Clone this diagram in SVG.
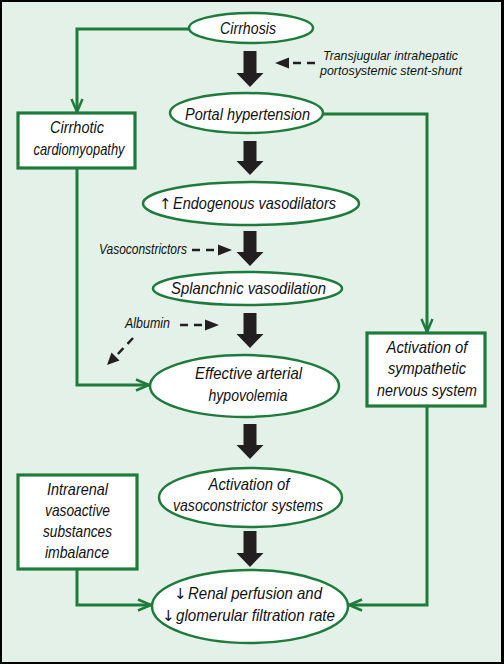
<svg xmlns="http://www.w3.org/2000/svg" width="504" height="664" viewBox="0 0 504 664">
<style>
.bg{fill:#e3f1e8}
.node{fill:#fff;stroke:#1e7b3c;stroke-width:2.5}
.box{fill:#fff;stroke:#1e7b3c;stroke-width:3.2}
.t{font-family:"Liberation Sans",Arial,sans-serif;font-style:italic;font-size:17px;fill:#111;text-anchor:middle}
.l{text-anchor:start}
.s{font-family:"Liberation Sans",Arial,sans-serif;font-style:italic;font-size:14px;fill:#111}
.tp{font-size:13px}
.ar{font-family:"DejaVu Sans",sans-serif;font-size:15px;fill:#111}
.g{fill:none;stroke:#1e7b3c;stroke-width:3}
.big{fill:#231f20}
.dash{fill:none;stroke:#231f20;stroke-width:2.5;stroke-dasharray:8 6}
.head{fill:#231f20}
</style>
<defs>
<marker id="open" markerUnits="userSpaceOnUse" markerWidth="16" markerHeight="14" viewBox="0 0 16 14" refX="14" refY="7" orient="auto">
<path d="M1,1.5 L14,7 L1,12.5" fill="none" stroke="#1e7b3c" stroke-width="2.5"/>
</marker>
</defs>
<rect x="0" y="0" width="504" height="664" fill="#000"/>
<rect class="bg" x="2" y="2" width="499" height="660"/>

<g id="connectors">
<polyline class="g" points="189,29 77,29 77,112" marker-end="url(#open)"/>
<polyline class="g" points="323,114 427,114 427,332" marker-end="url(#open)"/>
<polyline class="g" points="77,168 77,385 149,385" marker-end="url(#open)"/>
<polyline class="g" points="77,569 77,605 151,605" marker-end="url(#open)"/>
<polyline class="g" points="427,406 427,605 349,605" marker-end="url(#open)"/>
<path class="big" d="M243.5,51 H256.5 V73 H263.5 L250,87 L236.5,73 H243.5 Z"/>
<path class="big" d="M243.5,141 H256.5 V161 H263.5 L250,175 L236.5,161 H243.5 Z"/>
<path class="big" d="M243.5,231 H256.5 V252 H263.5 L250,266 L236.5,252 H243.5 Z"/>
<path class="big" d="M243.5,313 H256.5 V334 H263.5 L250,348 L236.5,334 H243.5 Z"/>
<path class="big" d="M243.5,424 H256.5 V445 H263.5 L250,459 L236.5,445 H243.5 Z"/>
<path class="big" d="M243.5,531 H256.5 V553 H263.5 L250,567 L236.5,553 H243.5 Z"/>
<line class="dash" x1="315" y1="63" x2="288" y2="63"/>
<path class="head" d="M275,63 L289,57.5 L289,68.5 Z"/>
<line class="dash" x1="192" y1="250" x2="219" y2="250"/>
<path class="head" d="M232,250 L218,244.5 L218,255.5 Z"/>
<line class="dash" x1="180" y1="325" x2="206" y2="325"/>
<path class="head" d="M219,325 L205,319.5 L205,330.5 Z"/>
<line class="dash" x1="133" y1="338" x2="116" y2="356"/>
<path class="head" d="M107,365 L119.5,360.5 L111.5,352.5 Z"/>
</g>

<g id="cirrhosis">
<ellipse class="node" cx="251" cy="28" rx="62" ry="15"/>
<text class="t" x="248" y="34" textLength="56" lengthAdjust="spacingAndGlyphs">Cirrhosis</text>
</g>
<g id="tips">
<text class="s tp" x="323" y="60" textLength="135" lengthAdjust="spacingAndGlyphs">Transjugular  intrahepatic</text>
<text class="s tp" x="320" y="75" textLength="142" lengthAdjust="spacingAndGlyphs">portosystemic  stent-shunt</text>
</g>
<g id="portal">
<ellipse class="node" cx="246.5" cy="113" rx="76.5" ry="20"/>
<text class="t" x="247.5" y="120" textLength="125" lengthAdjust="spacingAndGlyphs">Portal hypertension</text>
</g>
<g id="cardiomyopathy">
<rect class="box" x="18" y="113" width="117" height="55"/>
<text class="t" x="77" y="133" textLength="54" lengthAdjust="spacingAndGlyphs">Cirrhotic</text>
<text class="t" x="79" y="155" textLength="91" lengthAdjust="spacingAndGlyphs">cardiomyopathy</text>
</g>
<g id="endogenous">
<ellipse class="node" cx="251" cy="203.5" rx="108" ry="21.5"/>
<text class="ar" x="159" y="209">↑</text>
<text class="t l" x="173" y="209" textLength="163" lengthAdjust="spacingAndGlyphs">Endogenous vasodilators</text>
</g>
<g id="vasoconstrictors">
<text class="s" x="99" y="254" textLength="88" lengthAdjust="spacingAndGlyphs">Vasoconstrictors</text>
</g>
<g id="splanchnic">
<ellipse class="node" cx="247.5" cy="288.5" rx="94.5" ry="16.5"/>
<text class="t" x="248.5" y="294" textLength="155" lengthAdjust="spacingAndGlyphs">Splanchnic  vasodilation</text>
</g>
<g id="albumin">
<text class="s" x="125" y="328" textLength="45" lengthAdjust="spacingAndGlyphs">Albumin</text>
</g>
<g id="hypovolemia">
<ellipse class="node" cx="244.5" cy="386" rx="94.5" ry="31"/>
<text class="t" x="248.5" y="379" textLength="107" lengthAdjust="spacingAndGlyphs">Effective arterial</text>
<text class="t" x="248" y="401" textLength="79" lengthAdjust="spacingAndGlyphs">hypovolemia</text>
</g>
<g id="sympathetic">
<rect class="box" x="367" y="333" width="118" height="73"/>
<text class="t" x="427" y="353" textLength="81" lengthAdjust="spacingAndGlyphs">Activation of</text>
<text class="t" x="427" y="374" textLength="78" lengthAdjust="spacingAndGlyphs">sympathetic</text>
<text class="t" x="427" y="396" textLength="100" lengthAdjust="spacingAndGlyphs">nervous system</text>
</g>
<g id="vasoconstrictor-systems">
<ellipse class="node" cx="250.5" cy="497.5" rx="91.5" ry="29.5"/>
<text class="t" x="249" y="490" textLength="81" lengthAdjust="spacingAndGlyphs">Activation of</text>
<text class="t" x="248" y="511" textLength="150" lengthAdjust="spacingAndGlyphs">vasoconstrictor systems</text>
</g>
<g id="intrarenal">
<rect class="box" x="18" y="475" width="119" height="94"/>
<text class="t" x="77.5" y="495" textLength="61" lengthAdjust="spacingAndGlyphs">Intrarenal</text>
<text class="t" x="77.5" y="516" textLength="65" lengthAdjust="spacingAndGlyphs">vasoactive</text>
<text class="t" x="77.5" y="537" textLength="69" lengthAdjust="spacingAndGlyphs">substances</text>
<text class="t" x="77" y="558" textLength="64" lengthAdjust="spacingAndGlyphs">imbalance</text>
</g>
<g id="renal">
<ellipse class="node" cx="250" cy="606.5" rx="98" ry="36.5"/>
<text class="ar" x="174" y="599">↓</text>
<text class="t l" x="188" y="599" textLength="134" lengthAdjust="spacingAndGlyphs">Renal perfusion and</text>
<text class="ar" x="162" y="621">↓</text>
<text class="t l" x="176" y="621" textLength="159" lengthAdjust="spacingAndGlyphs">glomerular filtration rate</text>
</g>
</svg>
